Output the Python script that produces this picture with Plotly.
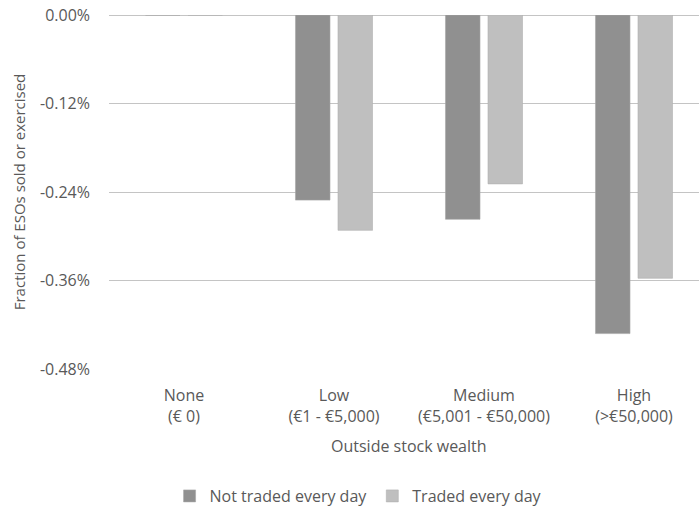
import plotly.graph_objects as go

# Outside stock wealth groups
categories = ["None<br>(€ 0)", "Low<br>(€1 - €5,000)", "Medium<br>(€5,001 - €50,000)", "High<br>(>€50,000)"]

# Fraction of ESOs sold or exercised (in %)
not_traded_every_day = [0.0, -0.251, -0.277, -0.432]
traded_every_day = [0.0, -0.292, -0.229, -0.357]

y_ticks = [0.0, -0.12, -0.24, -0.36, -0.48]
y_tick_labels = ["0.00%", "-0.12%", "-0.24%", "-0.36%", "-0.48%"]

FONT = "Open Sans"
SIZE = 16
TEXT = "#595959"

fig = go.Figure()
fig.add_trace(go.Bar(
    x=categories, y=not_traded_every_day, name="Not traded every day",
    marker=dict(color="#909090", line=dict(color="#a6a6a6", width=0.6)),
))
fig.add_trace(go.Bar(
    x=categories, y=traded_every_day, name="Traded every day",
    marker=dict(color="#bfbfbf", line=dict(color="#b0b0b0", width=0.6)),
))

fig.update_layout(
    width=699, height=513,
    margin=dict(l=109, r=0, t=15, b=143),
    paper_bgcolor="white", plot_bgcolor="white",
    barmode="group", bargap=0.433, bargroupgap=0.188,
    font=dict(family=FONT, size=SIZE, color=TEXT),
    showlegend=True,
    legend=dict(
        orientation="h", x=0.423, xanchor="center", y=-0.358, yanchor="middle",
        font=dict(family=FONT, size=SIZE, color=TEXT),
        itemwidth=30, traceorder="normal",
    ),
    xaxis=dict(
        range=[-0.5, 3.4333], showgrid=False, zeroline=False, showline=False,
        ticks="", tickfont=dict(family=FONT, size=SIZE, color=TEXT),
        ticklabelstandoff=15,
    ),
    yaxis=dict(
        range=[-0.48, 0.0], tickvals=y_ticks, ticktext=y_tick_labels,
        showgrid=True, gridcolor="#c4c4c4", gridwidth=1.3,
        zeroline=True, zerolinecolor="#c4c4c4", zerolinewidth=1.3,
        showline=False, ticks="", ticklabelstandoff=18,
        tickfont=dict(family=FONT, size=SIZE, color=TEXT),
        title=dict(text="Fraction of ESOs sold or exercised", standoff=10,
                   font=dict(family=FONT, size=15, color=TEXT)),
    ),
    annotations=[dict(
        text="Outside stock wealth", xref="paper", yref="paper",
        x=0.508, y=-0.217, xanchor="center", yanchor="middle",
        showarrow=False, font=dict(family=FONT, size=SIZE, color=TEXT),
    )],
)

fig.write_html("out.html")
